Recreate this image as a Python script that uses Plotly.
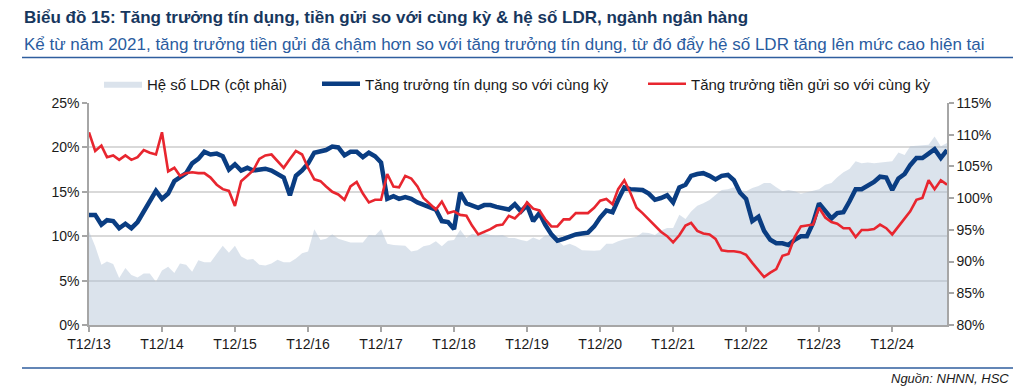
import pandas as pd
import plotly.graph_objects as go

# ---------------- data ----------------
start_month = "2013-12-01"
n_months = 142

credit_growth = [
    12.4, 12.4, 11.3, 11.8, 11.7, 10.9, 11.4, 10.9, 11.6, 12.8, 13.9, 15.1,
    14.2, 14.8, 16.2, 16.6, 17.1, 18.2, 18.7, 19.5, 19.2, 19.3, 19.0, 17.5,
    18.1, 17.4, 17.7, 17.4, 17.5, 17.6, 17.4, 17.0, 16.6, 14.6, 16.8, 17.4,
    18.2, 19.4, 19.5, 19.7, 20.1, 20.0, 19.1, 19.5, 19.5, 18.9, 19.4, 19.0,
    18.3, 14.2, 14.5, 14.2, 14.4, 14.2, 13.8, 13.5, 13.2, 13.0, 11.7, 11.6,
    10.8, 14.9, 13.7, 13.5, 13.2, 13.5, 13.5, 13.3, 13.1, 13.0, 13.6, 12.8,
    13.5, 11.7, 12.6, 11.3, 10.2, 9.5, 9.7, 10.0, 10.2, 10.3, 10.4, 11.1,
    12.1, 12.9, 12.7, 14.1, 15.5, 15.3, 15.3, 15.2, 14.8, 14.1, 14.3, 14.6,
    13.8, 15.5, 15.8, 16.8, 17.0, 17.1, 16.8, 16.4, 16.8, 16.9, 16.3, 14.9,
    14.2, 11.7, 12.2, 10.6, 9.6, 9.2, 9.2, 9.0, 9.6, 10.0, 10.0, 11.5,
    13.7, 12.8, 12.0, 12.6, 12.7, 13.9, 15.3, 15.3, 15.7, 16.1, 16.7, 16.6,
    15.2, 16.5, 17.0, 18.0, 18.8, 18.8, 19.3, 19.8, 18.8, 19.7,
]

deposit_growth = [
    21.7, 19.6, 20.2, 18.9, 19.1, 18.6, 19.1, 18.6, 18.9, 19.7, 19.4, 19.2,
    21.7, 17.3, 17.7, 16.8, 17.1, 17.2, 17.1, 17.1, 16.6, 15.8, 15.3, 15.1,
    13.4, 16.2, 16.8, 17.4, 18.7, 19.1, 19.2, 18.5, 17.7, 18.7, 19.6, 19.2,
    17.7, 16.4, 16.2, 15.6, 15.0, 14.7, 14.1, 15.6, 16.1, 14.8, 13.8, 14.1,
    14.1, 17.0, 15.6, 15.5, 16.8, 16.5, 15.6, 14.3, 13.7, 13.0, 13.9, 12.6,
    12.8, 12.4, 12.3, 11.2, 10.2, 10.5, 10.8, 11.2, 11.3, 12.3, 12.0, 12.7,
    13.8, 13.1, 12.9, 11.9, 11.1, 11.1, 11.9, 11.9, 12.6, 12.6, 12.6, 13.2,
    14.0, 14.2, 13.6, 15.3, 16.3, 14.9, 13.2, 12.6, 11.9, 11.1, 10.5, 10.0,
    9.3, 10.1, 11.2, 11.5, 10.6, 10.3, 10.2, 9.7, 8.4, 8.3, 8.3, 8.2,
    7.9, 7.0, 6.2, 5.4, 5.9, 6.3, 7.8, 8.0, 9.9, 11.1, 11.2, 11.3,
    13.2, 12.1, 11.6, 11.4, 10.9, 10.9, 9.9, 10.7, 10.7, 10.8, 11.3, 10.9,
    10.2, 11.1, 11.9, 12.8, 14.1, 14.3, 16.3, 15.3, 16.3, 15.8,
]

ldr_ratio = [
    94.8, 92.4, 89.5, 90.0, 89.6, 87.4, 89.0, 87.9, 87.5, 88.1, 88.1, 86.8,
    88.6, 89.2, 88.2, 89.7, 89.5, 88.4, 90.2, 89.9, 89.9, 91.2, 92.5, 91.4,
    92.5, 90.8, 90.3, 90.4, 89.5, 89.4, 89.7, 90.3, 89.9, 89.9, 90.5, 91.3,
    91.6, 95.1, 93.4, 93.6, 94.3, 93.6, 93.3, 93.0, 93.0, 93.0, 94.2, 94.1,
    95.1, 92.8, 92.6, 92.5, 92.5, 91.6, 91.8, 92.4, 92.6, 93.2, 92.4, 93.3,
    93.4, 95.0, 93.7, 94.4, 94.2, 94.5, 94.2, 94.1, 94.2, 93.7, 93.7, 93.4,
    93.2, 93.8, 93.4, 94.1, 94.2, 93.4, 92.5, 92.8, 92.4, 91.8, 91.7, 91.7,
    91.8, 92.8, 92.8, 93.2, 93.5, 93.7, 93.9, 94.6, 94.5, 94.2, 94.9, 95.3,
    95.3, 97.4, 96.7, 97.9, 98.8, 99.2, 99.7, 100.5, 101.3, 101.4, 101.7, 101.3,
    101.1, 101.6, 101.9, 102.4, 102.4, 101.7, 101.1, 101.3, 101.1, 100.7, 100.9, 101.2,
    101.4, 102.1, 102.4, 103.3, 104.1, 104.6, 105.8, 105.5, 105.6, 105.5, 105.6, 105.6,
    105.8, 107.2, 106.8, 108.2, 108.3, 108.4, 108.4, 109.7, 108.2, 108.7,
]

tick_dates = ["2013-12-01", "2014-12-01", "2015-12-01", "2016-12-01", "2017-12-01",
              "2018-12-01", "2019-12-01", "2020-12-01", "2021-12-01", "2022-12-01",
              "2023-12-01", "2024-12-01"]
tick_labels = ["T12/13", "T12/14", "T12/15", "T12/16", "T12/17", "T12/18",
               "T12/19", "T12/20", "T12/21", "T12/22", "T12/23", "T12/24"]

series_names = ["Hệ số LDR (cột phải)",
                "Tăng trưởng tín dụng so với cùng kỳ",
                "Tăng trưởng tiền gửi so với cùng kỳ"]

title_text = "Biểu đồ 15: Tăng trưởng tín dụng, tiền gửi so với cùng kỳ & hệ số LDR, ngành ngân hàng"
subtitle_text = "Kể từ năm 2021, tăng trưởng tiền gửi đã chậm hơn so với tăng trưởng tín dụng, từ đó đẩy hệ số LDR tăng lên mức cao hiện tại"
source_text = "Nguồn: NHNN, HSC"

# ---------------- figure ----------------
dates = pd.date_range(start_month, periods=n_months, freq="MS")

FONT = "Arial, 'Liberation Sans', sans-serif"
W, H = 1022, 388
L, R, T, B = 89, 75, 103, 63
pw, ph = W - L - R, H - T - B


def px_x(p):
    return (p - L) / pw


def px_y(p):
    return (H - B - p) / ph


fig = go.Figure()
# LDR area on the primary axis (drawn first, below the lines), shown on the right
fig.add_trace(go.Scatter(
    x=dates, y=ldr_ratio, yaxis="y", name=series_names[0],
    mode="lines", line=dict(width=0, color="rgba(0,0,0,0)"),
    fill="tozeroy", fillcolor="rgba(176,192,212,0.45)",
    legend="legend", hoverinfo="skip",
))
fig.add_trace(go.Scatter(
    x=dates, y=credit_growth, yaxis="y2", name=series_names[1], mode="lines",
    line=dict(width=4.5, color="#0A3D82"), legend="legend2",
))
fig.add_trace(go.Scatter(
    x=dates, y=deposit_growth, yaxis="y2", name=series_names[2], mode="lines",
    line=dict(width=2.6, color="#E8262F"), legend="legend3",
))

axis_col = "#A6A6A6"
leg_common = dict(orientation="h", xanchor="left", yanchor="middle",
                  y=px_y(84), bgcolor="rgba(0,0,0,0)",
                  font=dict(family=FONT, size=15, color="#1a1a1a"),
                  itemwidth=38, borderwidth=0)

fig.update_layout(
    width=W, height=H,
    margin=dict(l=L, r=R, t=T, b=B),
    paper_bgcolor="white", plot_bgcolor="white",
    font=dict(family=FONT, size=14, color="#1a1a1a"),
    showlegend=True,
    legend=dict(x=px_x(99), **leg_common),
    legend2=dict(x=px_x(317), **leg_common),
    legend3=dict(x=px_x(643), **leg_common),
    xaxis=dict(
        range=[dates[0], dates[-1]], showgrid=False,
        showline=True, linecolor=axis_col, linewidth=1.5,
        ticks="outside", ticklen=5, tickcolor=axis_col, tickwidth=1.5,
        tickvals=tick_dates, ticktext=tick_labels,
        tickfont=dict(size=14, color="#1a1a1a"),
        zeroline=False,
    ),
    yaxis=dict(
        range=[80, 115], dtick=5, ticksuffix="%", side="right",
        showgrid=False, showline=True, linecolor=axis_col, linewidth=1.5,
        ticks="outside", ticklen=5, tickcolor=axis_col, tickwidth=1.5,
        tickfont=dict(size=14, color="#1a1a1a"), zeroline=False,
    ),
    yaxis2=dict(
        range=[0, 25], dtick=5, ticksuffix="%", overlaying="y", side="left",
        showgrid=True, gridcolor="#D9D9D9", gridwidth=1.5,
        showline=True, linecolor=axis_col, linewidth=1.5,
        ticks="outside", ticklen=5, tickcolor=axis_col, tickwidth=1.5,
        tickfont=dict(size=14, color="#1a1a1a"), zeroline=False,
    ),
    annotations=[
        dict(xref="paper", yref="paper", x=px_x(22), y=px_y(18),
             xanchor="left", yanchor="middle", showarrow=False,
             text="<b>" + title_text + "</b>",
             font=dict(family=FONT, size=17, color="#17375E")),
        dict(xref="paper", yref="paper", x=px_x(22), y=px_y(44),
             xanchor="left", yanchor="middle", showarrow=False,
             text=subtitle_text,
             font=dict(family=FONT, size=17, color="#2A5CA0")),
        dict(xref="paper", yref="paper", x=px_x(1011), y=px_y(378),
             xanchor="right", yanchor="middle", showarrow=False,
             text="<i>" + source_text + "</i>",
             font=dict(family=FONT, size=13, color="#1a1a1a")),
    ],
    shapes=[
        dict(type="line", xref="paper", yref="paper",
             x0=px_x(22), x1=px_x(1013), y0=px_y(57.5), y1=px_y(57.5),
             line=dict(color="#2F5E9E", width=1.5)),
        dict(type="line", xref="paper", yref="paper",
             x0=px_x(22), x1=px_x(1013), y0=px_y(368), y1=px_y(368),
             line=dict(color="#2F5E9E", width=1.5)),
    ],
)

fig.write_html("out.html",
               config={"displayModeBar": False},
               post_script="document.body.style.margin='0';document.body.style.padding='0';")
